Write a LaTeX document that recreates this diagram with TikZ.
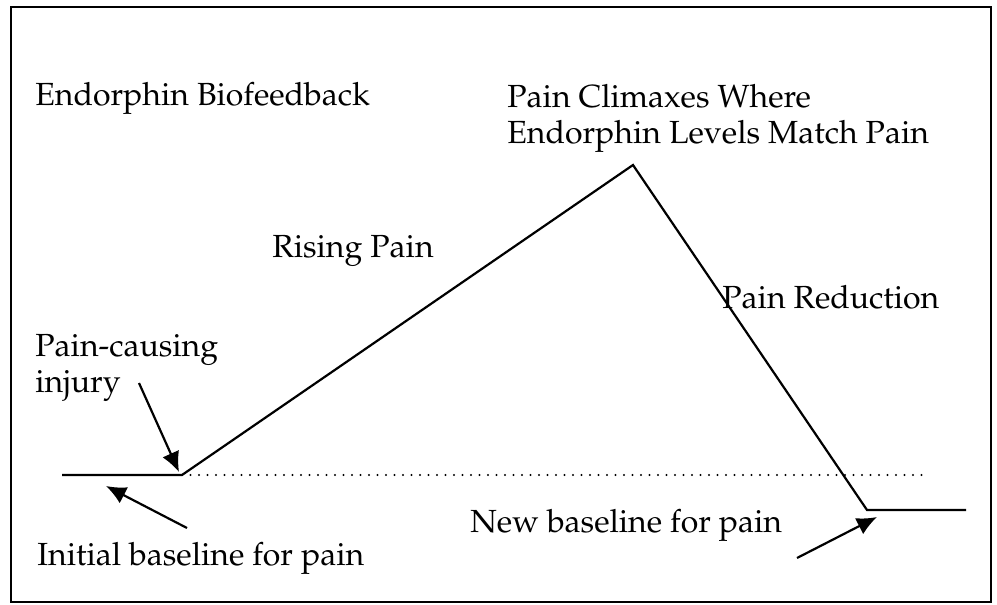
\documentclass[tikz,border=0pt]{standalone}
\usepackage[T1]{fontenc}
\usepackage{mathpazo}
\usepackage{tikz}
\usetikzlibrary{arrows.meta}

\begin{document}
\begin{tikzpicture}[x=0.5pt,y=-0.5pt,
    lbl/.style={anchor=base west,inner sep=0pt,align=left,font=\fontfamily{ppl}\fontsize{16}{18}\selectfont},
    pointer/.style={line width=1.1pt,-{Latex[length=10pt,width=9pt]}}]
                  \useasboundingbox (0,0) rectangle (997,605);
                  \draw[line width=1.3pt] (11,7) rectangle (991,602);

                  % corners of the pain curve
                  \coordinate (start) at (62,475);
                  \coordinate (inj) at (182,475);
                  \coordinate (peak) at (633,165);
                  \coordinate (low) at (867,510);
                  \coordinate (stop) at (966,510);
                  \coordinate (dotend) at (927,475);

                  \draw[line width=1.1pt] (start) -- (inj) -- (peak) -- (low) -- (stop);
                  \draw[line width=1.2pt,line cap=round,dash pattern=on 0pt off 4.25pt] (inj) -- (dotend);

                  \node[lbl] (title) at (35,105) {Endorphin Biofeedback};
                  \node[lbl] (climax) at (507,143) {Pain Climaxes Where\\Endorphin Levels Match Pain};
                  \node[lbl] (rising) at (272,257) {Rising Pain};
                  \node[lbl] (reduce) at (722,308) {Pain Reduction};
                  \node[lbl] (injury) at (35,392) {Pain-causing\\injury};
                  \node[lbl] (initial) at (37,565) {Initial baseline for pain};
                  \node[lbl] (newbase) at (470,532) {New baseline for pain};

                  % arrows
                  \coordinate (injtail) at (139,383);
                  \coordinate (injtip) at (179,472);
                  \coordinate (inittail) at (187,528);
                  \coordinate (inittip) at (106,486);
                  \coordinate (newtail) at (797,558);
                  \coordinate (newtip) at (877,517);
                  \draw[pointer] (injtail) -- (injtip);
                  \draw[pointer] (inittail) -- (inittip);
                  \draw[pointer] (newtail) -- (newtip);
              \end{tikzpicture}
\end{document}
